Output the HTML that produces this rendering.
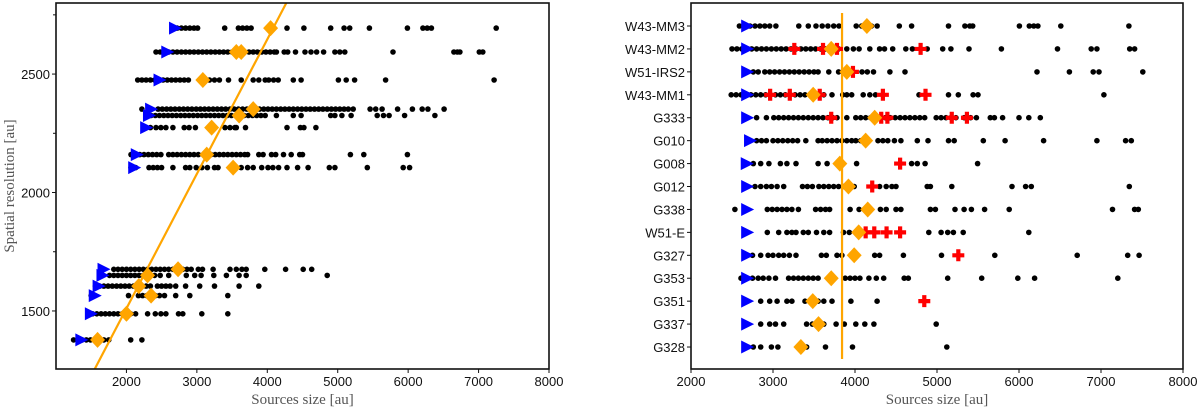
<!DOCTYPE html>
<html><head><meta charset="utf-8">
<style>
html,body{margin:0;padding:0;background:#fff;}
svg{display:block;}
.tk{font-family:"Liberation Sans",sans-serif;font-size:13px;fill:#111;}
.ttl{font-family:"Liberation Serif",serif;font-size:15px;fill:#555;}
</style></head>
<body>
<svg id="chart" width="1200" height="411" viewBox="0 0 1200 411" xmlns="http://www.w3.org/2000/svg"></svg>
<script>
// ---------- LEFT PANEL DATA ----------
const leftRes = [2694,2593,2475,2352,2325,2274,2160,2105,1676,1650,1605,1565,1488,1378];
const leftTri = [2690,2580,2470,2350,2320,2280,2147,2110,1675,1660,1605,1550,1495,1360];
const leftDia = [[4047],[3560,3630],[3085],[3800],[3600],[3210],[3140],[3515],[2733],[2300],[2175],[2350],[2000],[1590]];
const leftDots = [
 [2720,2780,2840,2900,2960,3010,3395,3590,3650,3710,3770,4280,4520,4900,5090,5170,5450,5990,6210,6270,6330,7250],
 [2420,2480,2540,2600,2660,2720,2780,2840,2900,2960,3020,3080,3140,3200,3260,3320,3380,3440,3500,3560,3620,3680,3740,3800,3860,3920,3980,4040,4100,4130,4240,4290,4400,4535,4620,4700,4800,4960,5030,5100,5785,6650,6700,6735,7010,7060],
 [2160,2220,2280,2340,2400,2460,2520,2580,2640,2700,2760,2820,2880,3040,3110,3180,3250,3320,3450,3630,3800,3880,3970,4020,4090,4155,4370,4480,5010,5120,5240,5680,7220],
 [2220,2450,2510,2570,2630,2690,2750,2810,2870,2930,2990,3050,3110,3170,3230,3290,3350,3410,3470,3530,3590,3650,3710,3770,3830,3890,3950,4010,4070,4130,4190,4250,4310,4370,4430,4490,4550,4610,4670,4730,4790,4850,4910,4970,5030,5090,5150,5220,5460,5540,5630,5850,6060,6200,6280,6510],
 [2290,2350,2410,2470,2530,2590,2650,2710,2770,2830,2890,2950,3010,3070,3130,3190,3250,3310,3370,3430,3490,3550,3610,3670,3730,3790,3850,3910,3970,4130,4370,4480,4900,4960,5060,5190,5560,5650,5730,5950,6380],
 [2340,2420,2490,2560,2660,2820,2890,2980,3400,3470,3540,3560,3690,4280,4470,4520,4690],
 [2065,2130,2190,2250,2310,2370,2430,2490,2600,2660,2720,2780,2840,2900,2960,3020,3200,3260,3320,3380,3440,3500,3560,3620,3680,3720,3880,3940,4060,4120,4230,4340,4460,4500,5180,5370,5990],
 [2065,2130,2320,2380,2440,2500,2660,2840,2900,2990,3070,3150,3250,3300,3630,3720,3800,3920,4010,4080,4160,4280,4430,4580,4880,4960,5420,5930,6020],
 [1820,1880,1940,2000,2060,2120,2180,2240,2300,2360,2420,2480,2540,2600,2660,2800,2860,2920,3020,3080,3230,3470,3560,3640,3700,3965,4260,4510,4630],
 [1760,1820,1880,1940,2000,2060,2120,2180,2240,2400,2480,2600,2850,2970,3060,3240,3420,3600,3700,4850],
 [1560,1620,1680,1740,1800,1860,1920,1980,2040,2100,2160,2220,2280,2340,2440,2500,2560,2620,2700,2840,3040,3250,3600,3880],
 [1500,1550,2030,2170,2230,2290,2350,2410,2470,2540,2700,2900,3440],
 [1520,1580,1640,1700,1760,1820,1880,1940,2000,2060,2130,2300,2410,2490,2560,2740,2800,3070,3440],
 [1250,1310,1370,1430,1490,1550,1610,1680,1750,2060,2220]
];
const fitX = [1550, 4270];
const fitY = [1255, 2800];
const leftXTicks = [2000,3000,4000,5000,6000,7000,8000];
const leftYTicks = [1500,2000,2500];
const leftYMinor = [1750,2250,2750];

// ---------- RIGHT PANEL DATA ----------
const rightNames = ["W43-MM3","W43-MM2","W51-IRS2","W43-MM1","G333","G010","G008","G012","G338","W51-E","G327","G353","G351","G337","G328"];
const rightTri = [2685,2685,2685,2685,2685,2720,2680,2685,2685,2685,2685,2685,2685,2685,2685];
const rightDia = [4145,3710,3900,3490,4240,4130,3815,3920,4155,4045,3990,3710,3485,3555,3340];
const rightCross = [[],[3260,3610,3780,4800],[3975],[2965,3205,3570,4340,4860],[3710,4320,4395,5180,5365],[],[4550],[4210],[],[4130,4235,4385,4550],[5260],[],[4845],[],[]];
const rightDots = [
 [2590,2650,2720,2780,2840,2900,2960,3035,3315,3430,3525,3600,3670,3740,3805,4015,4080,4200,4270,4540,4690,5140,5340,5400,5435,6005,6125,6180,6230,6510,7340],
 [2500,2560,2620,2680,2740,2800,2860,2920,2980,3040,3100,3160,3220,3280,3340,3400,3460,3520,3580,3640,3700,3760,3800,3900,3980,4050,4180,4300,4360,4460,4620,4700,4800,4880,5070,5170,5390,5785,6470,6880,6950,7350,7410],
 [2760,2820,2900,2960,3020,3080,3140,3200,3260,3320,3380,3440,3500,3550,3680,3800,3860,3920,4085,4150,4225,4425,4610,6220,6615,6905,6975,7510],
 [2490,2550,2610,2670,2730,2790,2850,2910,2970,3030,3090,3150,3210,3270,3330,3390,3450,3510,3570,3620,3720,3850,3900,3960,4100,4180,4250,4340,4780,5140,5260,5440,5500,7035],
 [2800,2920,3010,3070,3130,3190,3250,3310,3370,3430,3490,3550,3610,3670,3730,3780,3900,4010,4070,4130,4190,4250,4310,4370,4430,4490,4550,4610,4670,4730,4790,4850,4990,5050,5110,5170,5230,5330,5410,5480,5650,5700,5800,6000,6120,6260],
 [2800,2860,2920,3000,3060,3120,3180,3240,3300,3400,3550,3600,3660,3720,3780,3840,3900,3960,4010,4070,4280,4340,4400,4480,4560,4760,4890,5140,5210,5565,5830,6300,6950,7300,7370],
 [2760,2850,2950,3090,3170,3280,3550,3660,4020,4690,4760,4855,5495],
 [2780,2850,2920,2980,3050,3130,3360,3420,3480,3560,3620,3680,3740,3800,3860,3990,4300,4380,4450,4500,4880,4920,5180,5915,6080,6150,7345],
 [2535,2930,2990,3050,3110,3170,3230,3310,3520,3580,3640,3690,3940,4050,4310,4380,4500,4560,4920,4980,5220,5330,5420,5580,5880,7140,7410,7455],
 [2930,3070,3170,3230,3280,3370,3430,3530,3620,3690,3860,3930,4900,5050,5130,5200,5320,6120],
 [2750,2850,2940,3000,3070,3130,3200,3280,3590,3650,3780,3840,4240,4300,4590,5055,5705,6710,7325,7465],
 [2610,2680,2750,2820,2880,2950,3030,3190,3250,3310,3370,3430,3490,3550,3880,3940,4000,4060,4170,4260,4350,4600,4650,5130,5545,5985,6190,7205],
 [2850,2960,3050,3170,3230,3390,3470,3550,3620,3720,3950,4270],
 [2850,2960,3030,3130,3410,3480,3540,3620,3770,3870,4010,4120,4230,4990],
 [2760,2850,2980,3060,3410,3640,3970,5120]
];
const rightMean = [3842];
const rightXTicks = [2000,3000,4000,5000,6000,7000,8000];

// ---------- DRAWING ----------
const NS = "http://www.w3.org/2000/svg";
const svg = document.getElementById('chart');
function mk(tag, attrs, parent){
  const e = document.createElementNS(NS, tag);
  for (const k in attrs) e.setAttribute(k, attrs[k]);
  (parent||svg).appendChild(e);
  return e;
}
// left scales
const L = {x0:56, x1:549, y0:3, y1:369, xmin:1000, xmax:8000, ymin:1255, ymax:2800};
const lx = v => L.x0 + (v-L.xmin)/(L.xmax-L.xmin)*(L.x1-L.x0);
const ly = v => L.y1 - (v-L.ymin)/(L.ymax-L.ymin)*(L.y1-L.y0);
// right scales
const R = {x0:691, x1:1183, y0:3, y1:369, xmin:2000, xmax:8000, row0:26, rowStep:22.93};
const rx = v => R.x0 + (v-R.xmin)/(R.xmax-R.xmin)*(R.x1-R.x0);
const ry = i => R.row0 + i*R.rowStep;

function dot(g, x, y){
  const c = mk('circle',{cx:x.toFixed(1),cy:y.toFixed(1),r:2.8,fill:'#000'},g);
  
  
}
function tri(g, x, y){
  const p = mk('polygon',{points:`${x-6},${y-6.5} ${x+7},${y} ${x-6},${y+6.5}`,fill:'#0000ff'},g);
  
  
}
function dia(g, x, y){
  const p = mk('polygon',{points:`${x},${y-8} ${x+7.5},${y} ${x},${y+8} ${x-7.5},${y}`,fill:'#ffa500'},g);
  
  
}
function cross(g, x, y){
  const p = mk('path',{d:`M${x-6},${y}H${x+6}M${x},${y-6}V${y+6}`,stroke:'#ff0000','stroke-width':4.2,fill:'none'},g);
  
  
}

// LEFT
const gl = mk('g',{});


const clipL = mk('clipPath',{id:'clipL'});
mk('rect',{x:L.x0,y:L.y0,width:L.x1-L.x0,height:L.y1-L.y0},clipL);
const glm = mk('g',{'clip-path':'url(#clipL)'},gl);
leftRes.forEach((r,i)=>{
  const y = ly(r);
  leftDots[i].forEach(v=>dot(glm,lx(v),y));
});
const fit = mk('line',{x1:lx(fitX[0]),y1:ly(fitY[0]),x2:lx(fitX[1]),y2:ly(fitY[1]),stroke:'#ffa500','stroke-width':2.2},glm);


leftRes.forEach((r,i)=>{
  const y = ly(r);
  tri(glm,lx(leftTri[i]),y);
  leftDia[i].forEach(v=>dia(glm,lx(v),y));
});
const fl = mk('rect',{x:L.x0,y:L.y0,width:L.x1-L.x0,height:L.y1-L.y0,fill:'none',stroke:'#111','stroke-width':1.6},gl);


leftXTicks.forEach(t=>{
  const x = lx(t);
  mk('line',{x1:x,y1:L.y1,x2:x,y2:L.y1+4,stroke:'#111','stroke-width':1},gl);
  const tx = mk('text',{x:x,y:L.y1+17,'text-anchor':'middle',class:'tk'},gl);
  tx.textContent = t;
  
  
});
leftYTicks.forEach(t=>{
  const y = ly(t);
  mk('line',{x1:L.x0-4,y1:y,x2:L.x0,y2:y,stroke:'#111','stroke-width':1},gl);
  const tx = mk('text',{x:L.x0-6,y:y+5,'text-anchor':'end',class:'tk'},gl);
  tx.textContent = t;
  
  
});
leftYMinor.forEach(t=>{
  const y = ly(t);
  mk('line',{x1:L.x0-3,y1:y,x2:L.x0,y2:y,stroke:'#111','stroke-width':1},gl);
});
const lxt = mk('text',{x:(L.x0+L.x1)/2,y:404,'text-anchor':'middle',class:'ttl'},gl);
lxt.textContent = 'Sources size [au]';


const lyt = mk('text',{x:0,y:0,'text-anchor':'middle',class:'ttl',transform:`translate(14,${(L.y0+L.y1)/2}) rotate(-90)`},gl);
lyt.textContent = 'Spatial resolution [au]';



// RIGHT
const gr = mk('g',{});


rightNames.forEach((n,i)=>{
  const y = ry(i);
  rightDots[i].forEach(v=>dot(gr,rx(v),y));
});
const ml = mk('line',{x1:rx(rightMean[0]),y1:13,x2:rx(rightMean[0]),y2:359,stroke:'#ffa500','stroke-width':2.2},gr);


rightNames.forEach((n,i)=>{
  const y = ry(i);
  tri(gr,rx(rightTri[i]),y);
  rightCross[i].forEach(v=>cross(gr,rx(v),y));
  dia(gr,rx(rightDia[i]),y);
  mk('line',{x1:R.x0-4,y1:y,x2:R.x0,y2:y,stroke:'#111','stroke-width':1},gr);
  const tx = mk('text',{x:R.x0-6,y:y+5,'text-anchor':'end',class:'tk'},gr);
  tx.textContent = n;
  
  
});
const fr = mk('rect',{x:R.x0,y:R.y0,width:R.x1-R.x0,height:R.y1-R.y0,fill:'none',stroke:'#111','stroke-width':1.6},gr);


rightXTicks.forEach(t=>{
  const x = rx(t);
  mk('line',{x1:x,y1:R.y1,x2:x,y2:R.y1+4,stroke:'#111','stroke-width':1},gr);
  const tx = mk('text',{x:x,y:R.y1+17,'text-anchor':'middle',class:'tk'},gr);
  tx.textContent = t;
  
  
});
const rxt = mk('text',{x:(R.x0+R.x1)/2,y:404,'text-anchor':'middle',class:'ttl'},gr);
rxt.textContent = 'Sources size [au]';


</script>
</body></html>
